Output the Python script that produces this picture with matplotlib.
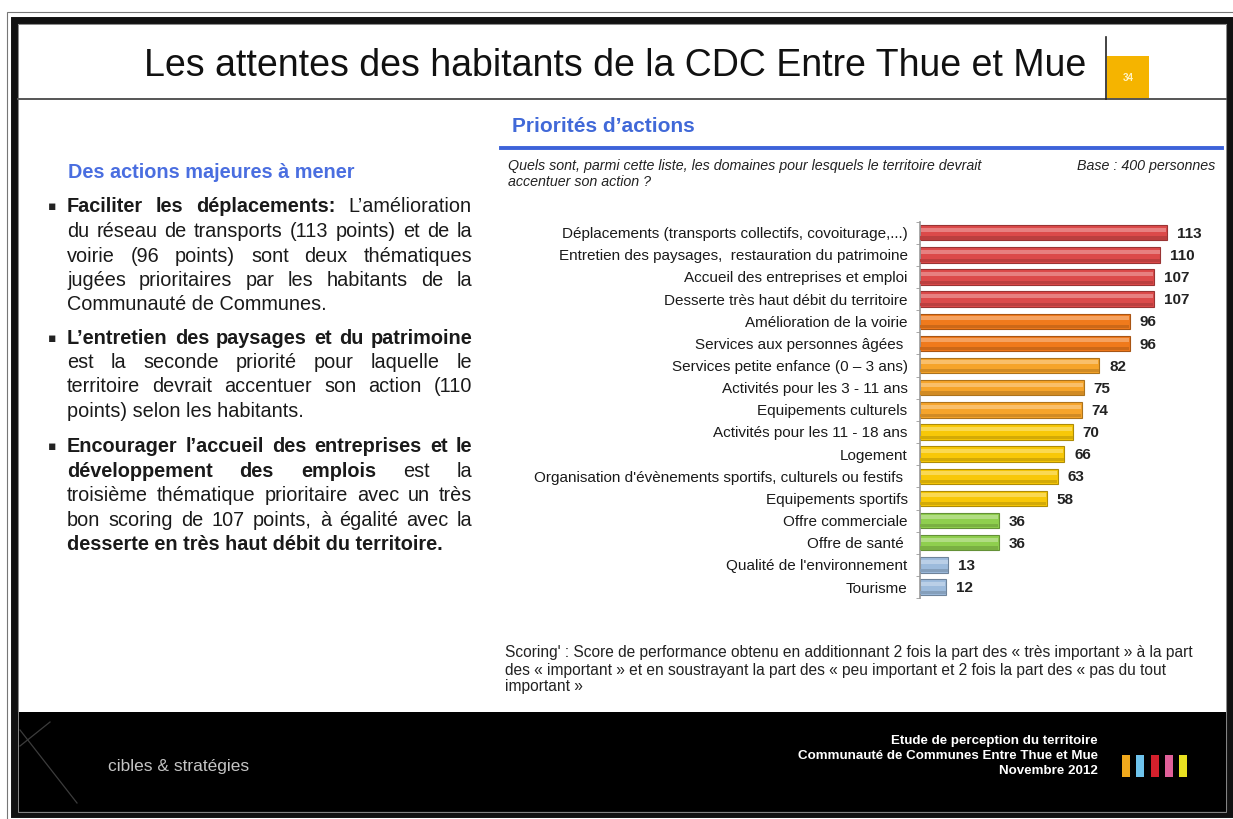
import matplotlib
matplotlib.use('Agg')
import matplotlib.pyplot as plt
import matplotlib.colors as mcolors
from matplotlib import font_manager
from matplotlib.patches import Rectangle
from matplotlib.lines import Line2D

W, H = 1233, 819

# --- data ---
categories = [
    'Déplacements (transports collectifs, covoiturage,...)',
    'Entretien des paysages,  restauration du patrimoine',
    'Accueil des entreprises et emploi',
    'Desserte très haut débit du territoire',
    'Amélioration de la voirie',
    'Services aux personnes âgées ',
    'Services petite enfance (0 – 3 ans)',
    'Activités pour les 3 - 11 ans',
    'Equipements culturels',
    'Activités pour les 11 - 18 ans',
    'Logement',
    "Organisation d'évènements sportifs, culturels ou festifs ",
    'Equipements sportifs',
    'Offre commerciale',
    'Offre de santé ',
    "Qualité de l'environnement",
    'Tourisme',
]
scores = [113, 110, 107, 107, 96, 96, 82, 75, 74, 70, 66, 63, 58, 36, 36, 13, 12]
score_levels = [0, 0, 0, 0, 1, 1, 2, 2, 2, 3, 3, 3, 3, 4, 4, 5, 5]

level_colors = ['#dc4a4a', '#f07a1c', '#f6a42a', '#f8c808', '#8fcf4e', '#9dbbdc']

paragraphs = [
    [[('Faciliter les déplacements:', True), ('L’amélioration', False)],
     [('du réseau de transports (113 points) et de la', False)],
     [('voirie (96 points) sont deux thématiques', False)],
     [('jugées prioritaires par les habitants de la', False)],
     [('Communauté de Communes.', False)]],
    [[('L’entretien des paysages et du patrimoine', True)],
     [('est la seconde priorité pour laquelle le', False)],
     [('territoire devrait accentuer son action (110', False)],
     [('points) selon les habitants.', False)]],
    [[('Encourager l’accueil des entreprises et le', True)],
     [('développement des emplois', True), ('est la', False)],
     [('troisième thématique prioritaire avec un très', False)],
     [('bon scoring de 107 points, à égalité avec la', False)],
     [('desserte en très haut débit du territoire.', True)]],
]

question = ['Quels sont, parmi cette liste, les domaines pour lesquels le territoire devrait',
            'accentuer son action ?']
footnote = [
    "Scoring' : Score de performance obtenu en additionnant 2 fois la part des « très important » à la part",
    "des « important » et en soustrayant la part des « peu important et 2 fois la part des « pas du tout",
    "important »",
]
footer_lines = ['Etude de perception du territoire',
                'Communauté de Communes Entre Thue et Mue',
                'Novembre 2012']
footer_colors = ['#f0a81c', '#6ec3ec', '#d4202c', '#e0609a', '#e8e020']

names = {f.name for f in font_manager.fontManager.ttflist}
BODY = ['Liberation Sans', 'DejaVu Sans']
NARROW = ['Liberation Sans Narrow', 'DejaVu Sans'] if 'Liberation Sans Narrow' in names else BODY


def fx(x):
    return x / W


def fy(y):
    return 1 - y / H


def shade(c, f):
    r, g, b = mcolors.to_rgb(c)
    if f > 0:
        return (r + (1 - r) * f, g + (1 - g) * f, b + (1 - b) * f)
    return (r * (1 + f), g * (1 + f), b * (1 + f))


fig = plt.figure(figsize=(W / 100, H / 100), dpi=100)
renderer = fig.canvas.get_renderer()


def rect(x0, y0, x1, y1, **kw):
    fig.patches.append(Rectangle((fx(x0), fy(y1)), (x1 - x0) / W, (y1 - y0) / H,
                                 transform=fig.transFigure, **kw))


def line(xs, ys, **kw):
    fig.add_artist(Line2D([fx(x) for x in xs], [fy(y) for y in ys], transform=fig.transFigure, **kw))


# slide frame + footer band
rect(15, 712, 1227, 813, facecolor='black', edgecolor='none')
rect(7, 12, 1240, 830, facecolor='none', edgecolor='#777777', linewidth=0.8)
rect(14, 19.5, 1230, 814, facecolor='none', edgecolor='#111111', linewidth=5)
rect(18, 23.5, 1226, 812, facecolor='none', edgecolor='#888888', linewidth=0.7)

# title block
fig.text(fx(615), fy(66), 'Les attentes des habitants de la CDC Entre Thue et Mue',
         fontsize=27, ha='center', va='center', family=BODY, color='#111111')
line([18, 1226], [99, 99], color='#555555', linewidth=1.4)
line([1106, 1106], [37, 99], color='#222222', linewidth=1.2)
rect(1107, 56, 1149, 99, facecolor='#f5b400', edgecolor='none')
fig.text(fx(1128), fy(78), '34', color='#fff4c8', fontsize=7, fontweight='bold',
         ha='center', va='center', family=BODY)

# left column text
fig.text(fx(68), fy(172), 'Des actions majeures à mener', color='#4a6ee0',
         fontsize=14.3, fontweight='bold', ha='left', va='center', family=BODY)

BODY_SIZE = 14.3
X0, X1 = 67, 472
para_top = [207, 338, 447]
line_step = 24.5
for top, para in zip(para_top, paragraphs):
    fig.text(fx(48), fy(top), '▪', fontsize=9, ha='left', va='center',
             family=['DejaVu Sans'], color='#222222')
    for k, segs in enumerate(para):
        y = top + k * line_step
        if k == len(para) - 1:
            x = X0
            for txt, bold in segs:
                t = fig.text(fx(x), fy(y), txt, fontsize=BODY_SIZE, ha='left', va='center',
                             fontweight='bold' if bold else 'normal', family=BODY, color='#1a1a1a')
                x += t.get_window_extent(renderer).width + 5
            continue
        # justified line: spread the words over the full column width
        words = [(w, bold) for txt, bold in segs for w in txt.split()]
        objs = [fig.text(0, fy(y), w, fontsize=BODY_SIZE, ha='left', va='center',
                         fontweight='bold' if b else 'normal', family=BODY, color='#1a1a1a')
                for w, b in words]
        widths = [o.get_window_extent(renderer).width for o in objs]
        gap = (X1 - X0 - sum(widths)) / (len(objs) - 1)
        x = X0
        for o, w in zip(objs, widths):
            o.set_x(fx(x))
            x += w + gap

# right column header
fig.text(fx(512), fy(126), 'Priorités d’actions', color='#4169d8', fontsize=15,
         fontweight='bold', ha='left', va='center', family=NARROW)
line([501, 1222], [148, 148], color='#3d63d9', linewidth=2.8)
for k, txt in enumerate(question):
    fig.text(fx(508), fy(166 + 16 * k), txt, fontsize=10.3, style='italic',
             ha='left', va='center', family=NARROW, color='#222222')
fig.text(fx(1215), fy(166), 'Base : 400 personnes',
         fontsize=10.3, style='italic', ha='right', va='center', family=NARROW, color='#222222')

# bar chart
n = len(categories)
ax_x0, ax_x1 = 920, 1215
ax_y0, ax_y1 = 221.6, 598.1
ax = fig.add_axes([fx(ax_x0), fy(ax_y1), (ax_x1 - ax_x0) / W, (ax_y1 - ax_y0) / H])
ax.set_facecolor('none')
px_per_unit = 247 / 113
ax.set_xlim(0, (ax_x1 - ax_x0) / px_per_unit)
ax.set_ylim(n - 0.5, -0.5)

ypos = list(range(n))
cols = [level_colors[l] for l in score_levels]
ax.barh(ypos, scores, height=0.7, color=cols,
        edgecolor=[shade(c, -0.3) for c in cols], linewidth=0.8, zorder=2)
ax.barh([y - 0.14 for y in ypos], [s - 0.8 for s in scores], left=0.4, height=0.18,
        color=[shade(c, 0.3) for c in cols], linewidth=0, zorder=3)
ax.barh([y + 0.24 for y in ypos], [s - 0.4 for s in scores], left=0.2, height=0.14,
        color=[shade(c, -0.15) for c in cols], linewidth=0, zorder=3)
for y, s in zip(ypos, scores):
    ax.text(s + 4.5, y + 0.05, str(s), ha='left', va='center', fontsize=11,
            fontweight='bold', family=NARROW, color='#222222')

for side in ['top', 'right', 'bottom']:
    ax.spines[side].set_visible(False)
ax.spines['left'].set_color('#999999')
ax.spines['left'].set_linewidth(1.2)
ax.set_xticks([])
ax.set_yticks(ypos)
ax.set_yticklabels(categories, fontsize=11, family=NARROW, color='#1a1a1a')
ax.tick_params(axis='y', length=0, pad=9)
ax.set_yticks([y + 0.5 for y in range(-1, n)], minor=True)
ax.tick_params(axis='y', which='minor', length=3, color='#999999', direction='out')

for k, txt in enumerate(footnote):
    fig.text(fx(505), fy(653 + 17 * k), txt, fontsize=11.2, ha='left', va='center',
             family=NARROW, color='#222222')

# footer
line([50, 20], [722, 746], color='#3c3c3c', linewidth=0.9)
line([20, 77], [730, 803], color='#3c3c3c', linewidth=0.9)
fig.text(fx(108), fy(766), 'cibles & stratégies', color='#c4c4c4', fontsize=12.5,
         ha='left', va='center', family=BODY)
for k, txt in enumerate(footer_lines):
    fig.text(fx(1098), fy(741 + 15 * k), txt, color='white', fontsize=9.6, fontweight='bold',
             ha='right', va='center', family=NARROW)
for k, c in enumerate(footer_colors):
    rect(1122 + 14.3 * k, 755, 1130 + 14.3 * k, 777, facecolor=c, edgecolor='none')

fig.savefig('out.png', dpi=100, facecolor='white')
